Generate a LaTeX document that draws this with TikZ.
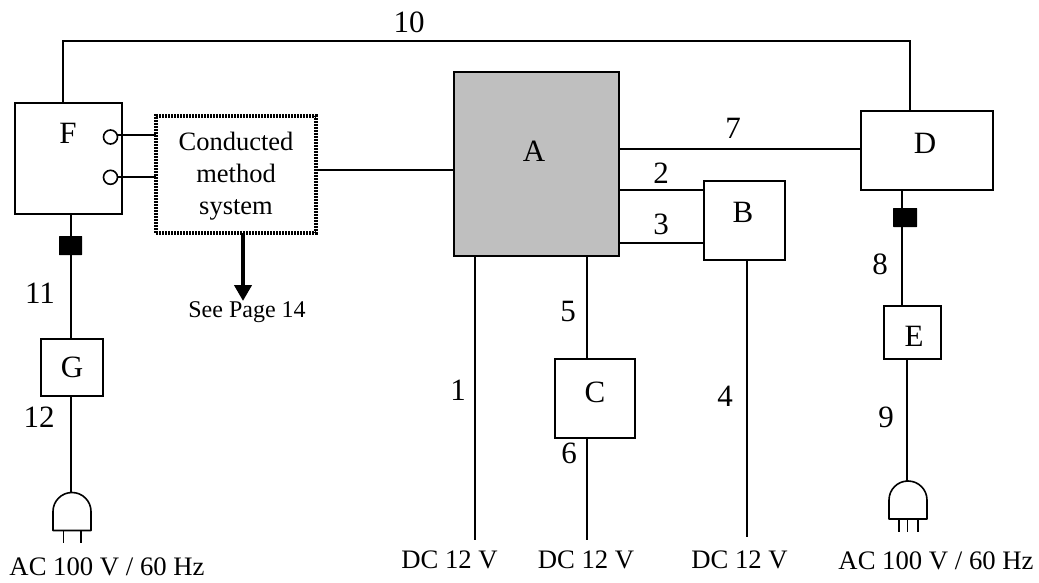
\documentclass[tikz,border=0pt]{standalone}
\usepackage{fontspec}
\setmainfont{Liberation Serif}
\usetikzlibrary{arrows.meta}
\definecolor{boxgrey}{HTML}{BFBFBF}
\tikzset{
  box/.style={draw=black,line width=1.7pt,fill=white,inner sep=0pt,outer sep=0pt},
  lab/.style={inner sep=0pt,font=\fontsize{31}{31}\selectfont},
  small/.style={inner sep=0pt,font=\fontsize{26.7}{27}\selectfont},
  seetext/.style={inner sep=0pt,font=\fontsize{24}{24}\selectfont},
  wire/.style={line width=1.7pt,draw=black},
  blk/.style={draw=none,fill=black,inner sep=0pt,outer sep=0pt,rounded corners=0.5pt},
  port/.style={circle,draw=black,line width=1.6pt,fill=white,minimum size=14pt,inner sep=0pt,outer sep=0pt},
  plugbody/.style={line width=1.6pt,draw=black,fill=white,line join=round},
}
\begin{document}
\begin{tikzpicture}[x=1pt,y=-1pt]
\useasboundingbox (0,0) rectangle (1039,583);
% boxes
\node[box,minimum width=107pt,minimum height=111pt] (F) at (68.5,158.5) {};
\node[lab] (Ft) at (68,133) {F};
\node[box,draw=none,fill=none,minimum width=160pt,minimum height=117pt,align=center] (S) at (236,174.5) {};
\draw[line width=3.2pt,dash pattern=on 2pt off 1pt] (S.south west) rectangle (S.north east);
\node[inner sep=0pt,align=center,font=\fontsize{26.5}{32}\selectfont] (St) at (236,176) {Conducted\\method\\system};
\node[box,line width=2.2pt,fill=boxgrey,minimum width=165pt,minimum height=184pt] (A) at (536.5,164) {};
\node[lab] (At) at (534,151) {A};
\node[box,minimum width=81pt,minimum height=79pt] (B) at (744.5,220.5) {};
\node[lab] (Bt) at (743,212) {B};
\node[box,minimum width=80pt,minimum height=79pt] (C) at (595,398.5) {};
\node[lab] (Ct) at (595,392) {C};
\node[box,minimum width=132pt,minimum height=79pt] (D) at (927,150.5) {};
\node[lab] (Dt) at (925,143) {D};
\node[box,minimum width=57pt,minimum height=53pt] (E) at (912.5,332.5) {};
\node[lab] (Et) at (914,336) {E};
\node[box,minimum width=62pt,minimum height=57pt] (G) at (72,367.5) {};
\node[lab] (Gt) at (72,367) {G};
\node[port] (P1) at (110.5,137) {};
\node[port] (P2) at (110.5,177.3) {};
% free points
\coordinate (topF) at (63,103);
\coordinate (topL) at (63,41);
\coordinate (topR) at (910,41);
\coordinate (topD) at (910,111);
\coordinate (pg) at (71,492.5);
\coordinate (pe) at (907,481);
\coordinate (d1) at (475,540);
\coordinate (d2) at (587,540);
\coordinate (d3) at (747,537);
% connectors
\draw[wire] (topF) -- (topL) -- (topR) -- (topD);
\draw[wire] (P1.16) -- (S.west |- P1.16);
\draw[wire] (P2.east) -- (S.west |- P2.east);
\draw[wire] (S.east |- 0,170) -- (A.west |- 0,170);
\draw[wire] (A.east |- 0,149) -- (D.west |- 0,149);
\draw[wire] (A.east |- 0,190) -- (B.west |- 0,190);
\draw[wire] (A.east |- 0,243) -- (B.west |- 0,243);
\draw[wire] (A.south -| d1) -- (d1);
\draw[wire] (A.south -| d2) -- (C.north -| d2);
\draw[wire] (C.south -| d2) -- (d2);
\draw[wire] (B.south -| d3) -- (d3);
\draw[wire] (F.south -| pg) -- (G.north -| pg);
\draw[wire] (G.south -| pg) -- (pg);
\draw[wire] (D.south -| 902,0) -- (E.north -| 902,0);
\draw[wire] (E.south -| pe) -- (pe);
% connector blocks
\node[blk,minimum width=23pt,minimum height=19pt] (bk1) at (70.5,245.5) {};
\node[blk,minimum width=24pt,minimum height=19pt] (bk2) at (905,217.5) {};
% output arrow
\node[seetext] (See) at (247,312) {See Page 14};
\coordinate (arr) at (243,301);
\draw[line width=4pt,-{Triangle[length=16pt,width=17pt]}] (S.south -| arr) -- (arr);
% plugs
\draw[plugbody] (53,530.5) -- (53,511.5) arc[start angle=180,end angle=360,radius=19] -- (91,530.5) -- cycle;
\draw[wire] (63.5,530.5) -- (63.5,543) (81,530.5) -- (81,543);
\draw[plugbody] (889,519) -- (889,500) arc[start angle=180,end angle=360,radius=19] -- (927,519) -- cycle;
\draw[wire] (899,519) -- (899,532) (907.5,519) -- (907.5,532) (918,519) -- (918,532);
% labels
\node[lab] (l10) at (409,22) {10};
\node[lab] (l7) at (733,128) {7};
\node[lab] (l2) at (661,173) {2};
\node[lab] (l3) at (661,224) {3};
\node[lab] (l1) at (458,390) {1};
\node[lab] (l4) at (725,396) {4};
\node[lab] (l5) at (568,312) {5};
\node[lab] (l6) at (569,453) {6};
\node[lab] (l8) at (880,264) {8};
\node[lab] (l9) at (886,417) {9};
\node[lab] (l11) at (40,293) {11};
\node[lab] (l12) at (39,417) {12};
\node[small] (ac1) at (107,567) {AC 100 V / 60 Hz};
\node[small] (dc1) at (449.5,560) {DC 12 V};
\node[small] (dc2) at (586,560) {DC 12 V};
\node[small] (dc3) at (739.5,560) {DC 12 V};
\node[small] (ac2) at (936,560.5) {AC 100 V / 60 Hz};
\end{tikzpicture}
\end{document}
